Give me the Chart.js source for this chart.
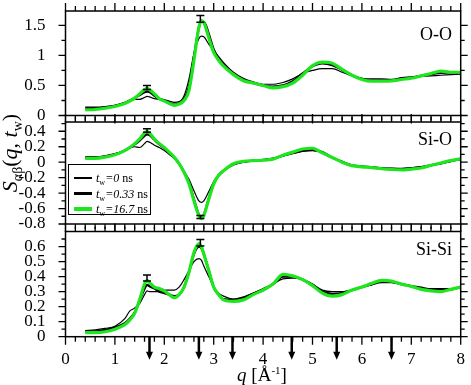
<!DOCTYPE html>
<html>
<head>
<meta charset="utf-8">
<script src="https://cdn.jsdelivr.net/npm/chart.js@4"></script>
<style>
body { margin: 0; background: #fff; }
#wrap { position: relative; width: 471px; height: 385px; overflow: hidden; font-family: "Liberation Serif", serif; color: #000; }
canvas { position: absolute; left: 0; top: -40px; }
.panelName { position: absolute; right: 19px; font-size: 18px; line-height: 18px; }
#yTitle { position: absolute; left: 14px; top: 153px; font-size: 22px; line-height: 22px; white-space: nowrap; transform: translate(-50%, -50%) rotate(-90deg); }
#yTitle sub { font-size: 14px; }
#xTitle { position: absolute; left: 262px; top: 361px; font-size: 19px; line-height: 19px; white-space: nowrap; transform: translateX(-50%); }
#xTitle sup { font-size: 11px; }
#legend { position: absolute; left: 68px; top: 164px; width: 81px; height: 49px; border: 1.5px solid #000; background: #fff; font-size: 12px; }
#legend .row { position: absolute; left: 0; height: 14px; width: 81px; }
#legend .swatch { position: absolute; left: 5px; width: 18px; }
#legend .txt { position: absolute; left: 27px; top: 0; line-height: 14px; white-space: nowrap; }
#legend sub { font-size: 8px; }
</style>
</head>
<body>
<div id="wrap">
  <canvas id="ooChart" width="471" height="425"></canvas>
  <canvas id="sioChart" width="471" height="425"></canvas>
  <canvas id="sisiChart" width="471" height="425"></canvas>
  <div class="panelName" style="top:25px">O-O</div>
  <div class="panelName" style="top:130px">Si-O</div>
  <div class="panelName" style="top:240px">Si-Si</div>
  <div id="yTitle"><i>S</i><sub>αβ</sub>(<i>q</i>, <i>t</i><sub>w</sub>)</div>
  <div id="xTitle"><i>q</i> [Å<sup>-1</sup>]</div>
  <div id="legend"></div>
</div>
<script>
// wavevector grid shared by all curves
const q = [0.4, 0.6, 0.8, 1.0, 1.2, 1.3, 1.4, 1.5, 1.6, 1.65, 1.7, 1.8, 1.9, 2.0, 2.1, 2.2, 2.3, 2.4, 2.5, 2.6,
           2.7, 2.75, 2.8, 2.9, 3.0, 3.1, 3.2, 3.4, 3.6, 3.8, 4.0, 4.2, 4.4, 4.6, 4.8, 5.0, 5.2, 5.4, 5.6, 5.8,
           6.0, 6.2, 6.4, 6.6, 6.8, 7.0, 7.2, 7.4, 7.6, 7.8, 8.0];

// O-O
const ooWait0 = [0.14, 0.14, 0.15, 0.17, 0.21, 0.24, 0.27, 0.27, 0.30, 0.32, 0.31, 0.28, 0.27, 0.26, 0.24, 0.22, 0.23, 0.33, 0.61, 1.03,
                 1.28, 1.32, 1.31, 1.19, 1.08, 0.98, 0.88, 0.72, 0.62, 0.56, 0.52, 0.52, 0.55, 0.61, 0.70, 0.75, 0.78, 0.78, 0.72, 0.66,
                 0.62, 0.61, 0.61, 0.60, 0.63, 0.64, 0.65, 0.66, 0.67, 0.68, 0.69];
const ooWait1 = [0.12, 0.12, 0.13, 0.16, 0.21, 0.25, 0.29, 0.34, 0.39, 0.40, 0.39, 0.33, 0.28, 0.25, 0.21, 0.18, 0.20, 0.27, 0.48, 0.98,
                 1.46, 1.56, 1.56, 1.36, 1.10, 0.95, 0.84, 0.68, 0.59, 0.54, 0.50, 0.48, 0.50, 0.57, 0.70, 0.82, 0.87, 0.84, 0.76, 0.67,
                 0.61, 0.58, 0.58, 0.59, 0.61, 0.63, 0.66, 0.69, 0.71, 0.72, 0.72];
const ooWait2 = [0.095, 0.10, 0.12, 0.15, 0.20, 0.24, 0.29, 0.36, 0.43, 0.45, 0.43, 0.36, 0.28, 0.24, 0.20, 0.17, 0.19, 0.25, 0.42, 0.92,
                 1.47, 1.58, 1.55, 1.30, 1.05, 0.92, 0.82, 0.68, 0.58, 0.54, 0.50, 0.46, 0.48, 0.54, 0.67, 0.83, 0.89, 0.87, 0.77, 0.67,
                 0.60, 0.57, 0.57, 0.575, 0.60, 0.62, 0.66, 0.70, 0.74, 0.72, 0.72];

// Si-O
const sioWait0 = [0.07, 0.07, 0.08, 0.11, 0.15, 0.18, 0.20, 0.19, 0.24, 0.27, 0.26, 0.22, 0.19, 0.15, 0.10, 0.05, -0.03, -0.12, -0.22, -0.37,
                  -0.50, -0.52, -0.50, -0.38, -0.25, -0.16, -0.10, -0.03, 0.0, 0.02, 0.03, 0.05, 0.08, 0.11, 0.14, 0.15, 0.12, 0.06, 0.01, -0.04,
                  -0.06, -0.07, -0.075, -0.08, -0.08, -0.07, -0.06, -0.04, -0.02, 0.01, 0.04];
const sioWait1 = [0.06, 0.06, 0.075, 0.10, 0.15, 0.19, 0.23, 0.28, 0.34, 0.36, 0.35, 0.29, 0.23, 0.18, 0.12, 0.06, -0.02, -0.13, -0.27, -0.48,
                  -0.68, -0.71, -0.68, -0.47, -0.28, -0.17, -0.11, -0.03, 0.005, 0.02, 0.03, 0.045, 0.085, 0.12, 0.15, 0.16, 0.13, 0.06, 0.005, -0.04,
                  -0.055, -0.065, -0.08, -0.085, -0.09, -0.08, -0.065, -0.04, -0.015, 0.015, 0.04];
const sioWait2 = [0.05, 0.05, 0.065, 0.095, 0.15, 0.19, 0.24, 0.30, 0.38, 0.40, 0.38, 0.30, 0.24, 0.19, 0.13, 0.065, -0.02, -0.13, -0.28, -0.50,
                  -0.69, -0.73, -0.69, -0.48, -0.28, -0.17, -0.11, -0.02, 0.01, 0.02, 0.025, 0.04, 0.09, 0.13, 0.17, 0.18, 0.12, 0.06, 0.0, -0.045,
                  -0.06, -0.07, -0.085, -0.095, -0.10, -0.09, -0.075, -0.04, -0.01, 0.02, 0.045];

// Si-Si
const sisiWait0 = [0.04, 0.045, 0.055, 0.07, 0.12, 0.17, 0.19, 0.22, 0.28, 0.305, 0.30, 0.30, 0.30, 0.31, 0.31, 0.31, 0.33, 0.38, 0.44, 0.50,
                   0.52, 0.51, 0.47, 0.40, 0.33, 0.29, 0.27, 0.25, 0.265, 0.29, 0.32, 0.35, 0.385, 0.39, 0.38, 0.35, 0.31, 0.30, 0.30, 0.31,
                   0.33, 0.345, 0.36, 0.36, 0.35, 0.34, 0.33, 0.32, 0.32, 0.32, 0.33];
const sisiWait1 = [0.035, 0.035, 0.045, 0.06, 0.09, 0.12, 0.16, 0.24, 0.32, 0.345, 0.335, 0.32, 0.30, 0.29, 0.28, 0.27, 0.28, 0.33, 0.43, 0.55,
                   0.60, 0.59, 0.55, 0.44, 0.33, 0.28, 0.25, 0.245, 0.255, 0.285, 0.31, 0.35, 0.40, 0.40, 0.38, 0.345, 0.30, 0.285, 0.29, 0.31,
                   0.33, 0.35, 0.37, 0.365, 0.35, 0.335, 0.32, 0.31, 0.31, 0.315, 0.33];
const sisiWait2 = [0.027, 0.027, 0.033, 0.05, 0.08, 0.11, 0.155, 0.245, 0.35, 0.375, 0.36, 0.33, 0.32, 0.305, 0.28, 0.26, 0.28, 0.33, 0.43, 0.56,
                   0.62, 0.60, 0.55, 0.44, 0.33, 0.28, 0.245, 0.235, 0.245, 0.28, 0.31, 0.35, 0.415, 0.405, 0.38, 0.34, 0.29, 0.27, 0.28, 0.31,
                   0.33, 0.355, 0.375, 0.37, 0.35, 0.335, 0.315, 0.305, 0.30, 0.315, 0.33];

// waiting times for the legend
const waitTimes = ['0', '0.33', '16.7'];

// error bars at the two first peaks
const errQ = [1.65, 2.73];
const ooErr = [0.467, 1.61], ooErrHalf = [0.033, 0.057];
const sioErr = [0.41, -0.71], sioErrHalf = [0.022, 0.02];
const sisiErr = [0.39, 0.625], sisiErrHalf = [0.02, 0.022];

// arrows below the q axis
const arrowQ = [1.7, 2.7, 3.38, 4.58, 5.49, 6.6];

// tick labels
const xTicks = [0, 1, 2, 3, 4, 5, 6, 7, 8];
const ooTicks = [0, 0.5, 1, 1.5];
const sioTicks = [-0.8, -0.6, -0.4, -0.2, 0, 0.2, 0.4];
const sisiTicks = [0, 0.1, 0.2, 0.3, 0.4, 0.5, 0.6];

const green = '#1ee61e';
const lineStyles = [
    { color: '#000', width: 1.2, order: 2 },
    { color: '#000', width: 2.3, order: 1 },
    { color: green, width: 3.2, order: 0 }
];
const tickFont = { family: 'Liberation Serif', size: 17 };
const shift = 40; // canvases start 40px above the page

const toPoints = function (ys) {
    return q.map((x, i) => ({ x: x, y: ys[i] }));
};

// frame, ticks, error bars and arrows
const decoPlugin = {
    id: 'deco',
    afterDatasetsDraw(chart, args, opts) {
        const ctx = chart.ctx;
        const a = chart.chartArea;
        const xs = chart.scales.x, ys = chart.scales.y;
        ctx.save();
        ctx.strokeStyle = '#000';
        ctx.fillStyle = '#000';
        ctx.lineWidth = 1.5;
        ctx.strokeRect(a.left, a.top, a.right - a.left, a.bottom - a.top);
        ctx.lineWidth = 1.3;
        ctx.beginPath();
        for (let k = 0; k <= 40; k++) {
            const px = xs.getPixelForValue(k * 0.2);
            const len = k % 5 === 0 ? 8 : 5;
            ctx.moveTo(px, a.top); ctx.lineTo(px, a.top - len);
            ctx.moveTo(px, a.bottom); ctx.lineTo(px, a.bottom + len);
        }
        for (let k = 0; ; k++) {
            const v = opts.yStart + k * opts.yStep;
            if (v > ys.max - 1e-6) break;
            const py = ys.getPixelForValue(v);
            const major = opts.majors.some(m => Math.abs(m - v) < 1e-6);
            const len = major ? 7 : 4;
            ctx.moveTo(a.left, py); ctx.lineTo(a.left - len, py);
            ctx.moveTo(a.right, py); ctx.lineTo(a.right + len, py);
        }
        ctx.stroke();
        // error bars
        ctx.lineWidth = 1.5;
        ctx.beginPath();
        for (let i = 0; i < errQ.length; i++) {
            const px = xs.getPixelForValue(errQ[i]);
            const y1 = ys.getPixelForValue(opts.err[i] + opts.errHalf[i]);
            const y2 = ys.getPixelForValue(opts.err[i] - opts.errHalf[i]);
            ctx.moveTo(px, y1); ctx.lineTo(px, y2);
            ctx.moveTo(px - 4, y1); ctx.lineTo(px + 4, y1);
            ctx.moveTo(px - 4, y2); ctx.lineTo(px + 4, y2);
        }
        ctx.stroke();
        if (opts.arrows) {
            ctx.lineWidth = 2.5;
            for (let i = 0; i < arrowQ.length; i++) {
                const px = xs.getPixelForValue(arrowQ[i]);
                ctx.beginPath();
                ctx.moveTo(px, a.bottom); ctx.lineTo(px, a.bottom + 16);
                ctx.stroke();
                ctx.beginPath();
                ctx.moveTo(px - 3.5, a.bottom + 15);
                ctx.lineTo(px + 3.5, a.bottom + 15);
                ctx.lineTo(px, a.bottom + 23);
                ctx.closePath();
                ctx.fill();
            }
        }
        ctx.restore();
    }
};

const makePanel = function (element, series, yMin, yMax, yTicks, deco, top, bottom, showX) {
    return new Chart(element, {
        type: 'line',
        data: {
            datasets: series.map((s, i) => ({
                data: toPoints(s),
                borderColor: lineStyles[i].color,
                borderWidth: lineStyles[i].width,
                order: lineStyles[i].order,
                pointRadius: 0,
                fill: false,
                cubicInterpolationMode: 'monotone'
            }))
        },
        options: {
            responsive: false,
            animation: false,
            devicePixelRatio: 1,
            layout: { padding: { left: 0, right: 10.3, top: top + shift, bottom: showX ? 385 - bottom - 28 : 385 - bottom } },
            scales: {
                x: {
                    type: 'linear',
                    min: 0,
                    max: 8,
                    display: showX,
                    grid: { display: false },
                    border: { display: false },
                    afterBuildTicks: s => { s.ticks = xTicks.map(v => ({ value: v })); },
                    afterFit: s => { if (showX) s.height = 28; },
                    ticks: { font: tickFont, color: '#000', padding: 5, maxRotation: 0, autoSkip: false }
                },
                y: {
                    type: 'linear',
                    min: yMin,
                    max: yMax,
                    grid: { display: false },
                    border: { display: false },
                    afterBuildTicks: s => { s.ticks = yTicks.map(v => ({ value: v })); },
                    afterFit: s => { s.width = 65.5; },
                    ticks: { font: tickFont, color: '#000', padding: 12, autoSkip: false, callback: v => String(v) }
                }
            },
            plugins: {
                legend: { display: false },
                tooltip: { enabled: false },
                deco: deco
            }
        },
        plugins: [decoPlugin]
    });
};

Chart.defaults.font.family = 'Liberation Serif';

const ooChart = makePanel(document.getElementById('ooChart'), [ooWait0, ooWait1, ooWait2], 0, 1.74, ooTicks,
    { yStart: 0, yStep: 0.25, majors: ooTicks, err: ooErr, errHalf: ooErrHalf }, 11, 115.5, false);

const sioChart = makePanel(document.getElementById('sioChart'), [sioWait0, sioWait1, sioWait2], -0.8, 0.52, sioTicks,
    { yStart: -0.8, yStep: 0.1, majors: sioTicks, err: sioErr, errHalf: sioErrHalf }, 122, 224, false);

const sisiChart = makePanel(document.getElementById('sisiChart'), [sisiWait0, sisiWait1, sisiWait2], 0, 0.70, sisiTicks,
    { yStart: 0, yStep: 0.05, majors: sisiTicks, err: sisiErr, errHalf: sisiErrHalf, arrows: true }, 231.5, 336.7, true);

// legend rows
const legend = document.getElementById('legend');
const rowTops = [6, 21.5, 37];
waitTimes.forEach((t, i) => {
    const row = document.createElement('div');
    row.className = 'row';
    row.style.top = rowTops[i] + 'px';
    const sw = document.createElement('div');
    sw.className = 'swatch';
    sw.style.height = lineStyles[i].width + 'px';
    sw.style.top = (7 - lineStyles[i].width / 2) + 'px';
    sw.style.background = lineStyles[i].color;
    const txt = document.createElement('div');
    txt.className = 'txt';
    txt.innerHTML = '<i>t</i><sub>w</sub><i>=' + t + '</i> ns';
    row.appendChild(sw);
    row.appendChild(txt);
    legend.appendChild(row);
});
</script>
</body>
</html>
